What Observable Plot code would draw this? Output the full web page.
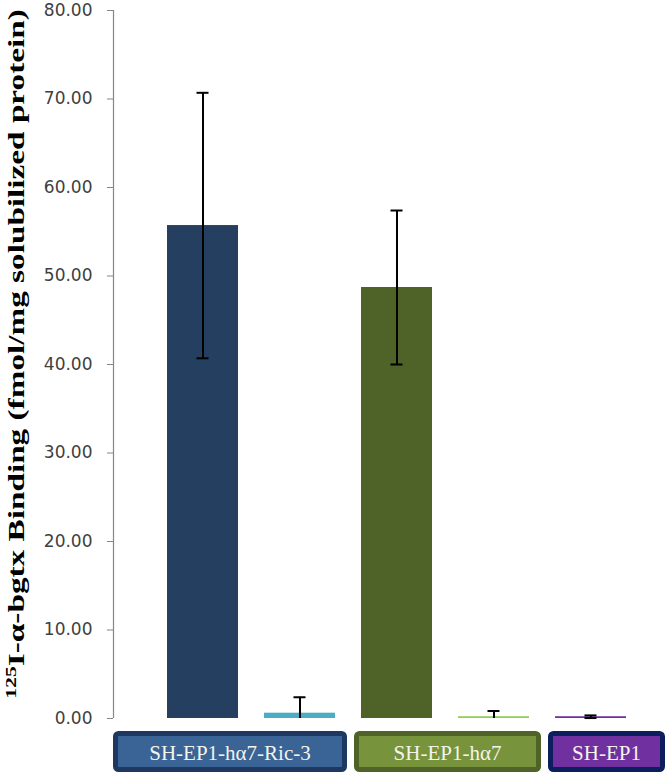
<!DOCTYPE html>
<html><head><meta charset="utf-8">
<script src="https://cdn.jsdelivr.net/npm/d3@7"></script>
<script src="https://cdn.jsdelivr.net/npm/@observablehq/plot@0.6"></script>
<style>body{margin:0;background:#fff} #chart svg{display:block}</style>
</head><body><div id="chart"></div>
<script>
// ---- data ----
const categories = ["Ric-3 a", "Ric-3 b", "hα7 a", "hα7 b", "SH-EP1"];
const values = [55.7, 0.6, 48.7, 0.2, 0.2];
const errors = [15.0, 1.8, 8.7, 0.65, 0.15];
const barColors = ["#243f60", "#4bacc6", "#4f6228", "#92d050", "#7030a0"];
const groupLabels = ["SH-EP1-hα7-Ric-3", "SH-EP1-hα7", "SH-EP1"];
const groupMembers = [["Ric-3 a", "Ric-3 b"], ["hα7 a", "hα7 b"], ["SH-EP1"]];
const groupFills = ["#3a6396", "#77933c", "#7030a0"];
const groupStrokes = ["#1f3862", "#4f6228", "#0c1f5c"];
const yTicks = [0, 10, 20, 30, 40, 50, 60, 70, 80];
const titleSup = "125";
const titleMain = "I-α-bgtx Binding (fmol/mg solubilized protein)";

const data = categories.map((c, i) => ({
  cat: c, v: values[i], e: errors[i],
  lo: Math.max(0, values[i] - errors[i]), hi: values[i] + errors[i],
  color: barColors[i]
}));
const groups = groupLabels.map((g, i) => ({label: g, members: groupMembers[i], fill: groupFills[i], stroke: groupStrokes[i]}));

const W = 667, H = 777, mL = 113, mT = 10, mB = 59;

const axisLine = (index, scales, values, dims) => {
  const g = d3.create("svg:g");
  const y0 = scales.y(0), y1 = scales.y(80);
  g.append("line").attr("x1", dims.marginLeft + 0.5).attr("x2", dims.marginLeft + 0.5)
    .attr("y1", y1).attr("y2", y0).attr("stroke", "#868686").attr("stroke-width", 1.2);
  return g.node();
};

const boxesMark = (index, scales, values, dims) => {
  const g = d3.create("svg:g");
  const bw = scales.x.bandwidth();
  const top = scales.y(0) + 13, h = 41, sw = 5;
  groups.forEach((grp, i) => {
    const first = scales.x(grp.members[0]);
    const last = scales.x(grp.members[grp.members.length - 1]) + bw;
    const left = i === 0 ? dims.marginLeft : first - 7;
    const right = i === groups.length - 1 ? dims.width - 2 : last + 12;
    g.append("rect").attr("x", left + sw / 2).attr("y", top + sw / 2)
      .attr("width", right - left - sw).attr("height", h - sw)
      .attr("rx", 3).attr("fill", grp.fill).attr("stroke", grp.stroke).attr("stroke-width", sw);
    g.append("text").attr("x", (left + right) / 2).attr("y", top + h / 2 + 1)
      .attr("text-anchor", "middle").attr("dominant-baseline", "central")
      .attr("font-family", "'Liberation Serif', 'Times New Roman', serif").attr("font-size", 21)
      .attr("fill", "#f4f4ea").text(grp.label);
  });
  return g.node();
};

const titleMark = () => {
  const g = d3.create("svg:g").attr("class", "ytitle");
  const t = g.append("text").attr("transform", "translate(24,354) rotate(-90)")
    .attr("text-anchor", "middle")
    .attr("font-family", "'Liberation Serif', 'Times New Roman', serif")
    .attr("font-weight", "bold").attr("fill", "#000");
  t.append("tspan").attr("font-size", 15).attr("dy", -8).text(titleSup);
  t.append("tspan").attr("font-size", 23).attr("dy", 8).text(titleMain);
  return g.node();
};

const plot = Plot.plot({
  width: W, height: H,
  marginLeft: mL, marginRight: 0, marginTop: mT, marginBottom: mB,
  style: {background: "#fff", overflow: "visible"},
  x: {domain: categories, range: [165.5, 627], paddingInner: 0.27, paddingOuter: 0, axis: null},
  y: {domain: [0, 80], axis: null},
  color: {type: "identity"},
  marks: [
    Plot.barY(data, {x: "cat", y: "v", fill: "color"}),
    Plot.ruleX(data, {x: "cat", y1: "lo", y2: "hi", stroke: "#000", strokeWidth: 2}),
    Plot.tickY(data, {x: "cat", y: "hi", stroke: "#000", strokeWidth: 2, insetLeft: 29.5, insetRight: 29.5}),
    Plot.tickY(data.filter(d => d.v - d.e > 0), {x: "cat", y: "lo", stroke: "#000", strokeWidth: 2, insetLeft: 29.5, insetRight: 29.5}),
    Plot.axisY(yTicks, {tickSize: 6, tickPadding: 15, tickFormat: d => d.toFixed(2),
      stroke: "#868686", fill: "#404040", fontSize: 17, fontFamily: "DejaVu Sans", label: null}),
    axisLine,
    boxesMark,
    titleMark
  ]
});
document.getElementById("chart").appendChild(plot);

// stretch the rotated title along its length to span the axis height
const tnode = plot.querySelector(".ytitle text");
if (tnode) {
  const len = tnode.getComputedTextLength();
  const target = 690;
  if (len > 0) tnode.setAttribute("transform", `translate(24,354) rotate(-90) scale(${target / len},1)`);
}
</script>
</body></html>
